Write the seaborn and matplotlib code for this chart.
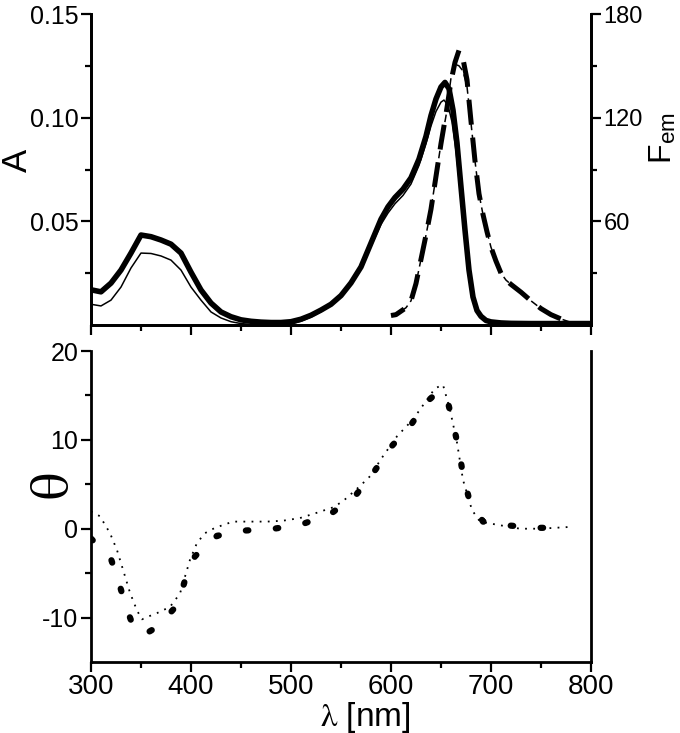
import seaborn as sns
import matplotlib.pyplot as plt
from matplotlib.ticker import MultipleLocator, FixedLocator, FormatStrFormatter

# Absorbance spectra (thick and thin solid curves), A units
abs_thick_nm = [300, 310, 320, 330, 340, 350, 360, 370, 380, 390, 400, 410, 420, 430, 440,
                450, 460, 470, 480, 490, 500, 510, 520, 530, 540, 550, 560, 570, 580, 590,
                597, 604, 612, 620, 628, 635, 640, 645, 650, 654, 658, 662, 666, 670, 674,
                678, 682, 686, 690, 695, 700, 710, 720, 740, 760, 780, 800]
abs_thick = [0.0170, 0.0160, 0.0202, 0.0265, 0.0347, 0.0434, 0.0426, 0.0410, 0.0390, 0.0347,
             0.0255, 0.0169, 0.0106, 0.0063, 0.0040, 0.0025, 0.0018, 0.0014, 0.0012, 0.0012,
             0.0016, 0.0028, 0.0047, 0.0072, 0.0100, 0.0142, 0.0203, 0.0280, 0.0395, 0.0510,
             0.0570, 0.0615, 0.0655, 0.0710, 0.0800, 0.0910, 0.1010, 0.1090, 0.1148, 0.1170,
             0.1140, 0.1037, 0.0878, 0.0666, 0.0458, 0.0265, 0.0135, 0.0070, 0.0042, 0.0022,
             0.0015, 0.0010, 0.0008, 0.0007, 0.0007, 0.0007, 0.0007]

abs_thin_nm = [300, 310, 320, 330, 340, 350, 360, 370, 380, 390, 400, 410, 420, 430, 440,
               450, 460, 470, 480, 490, 500, 510, 520, 530, 540, 550, 560, 570, 580, 590,
               597, 604, 612, 620, 628, 635, 640, 645, 650, 653, 657, 661, 665, 669, 673,
               677, 681, 685, 690, 695, 700, 710, 720, 800]
abs_thin = [0.0100, 0.0092, 0.0120, 0.0183, 0.0275, 0.0347, 0.0345, 0.0333, 0.0313, 0.0265,
            0.0183, 0.0120, 0.0063, 0.0034, 0.0016, 0.0007, 0.0003, 0.0001, 0.0000, 0.0000,
            0.0004, 0.0018, 0.0038, 0.0064, 0.0095, 0.0138, 0.0198, 0.0272, 0.0380, 0.0485,
            0.0540, 0.0585, 0.0625, 0.0680, 0.0770, 0.0875, 0.0960, 0.1030, 0.1075, 0.1085,
            0.1060, 0.0980, 0.0840, 0.0660, 0.0460, 0.0280, 0.0150, 0.0080, 0.0040, 0.0020,
            0.0010, 0.0003, 0.0000, 0.0000]

# Emission spectra (dashed curves), Fem units
em_nm = [600, 605, 610, 615, 620, 625, 630, 635, 640, 645, 650, 655, 660, 664, 668, 672,
         676, 680, 684, 688, 692, 696, 700, 705, 710, 715, 720, 730, 740, 750, 760, 770, 780]
em_thick = [5.5, 6.0, 8.0, 10.0, 14.0, 24.0, 38.0, 52.0, 67.0, 86.0, 105.0, 122.0, 141.0,
            152.0, 159.0, 154.0, 142.0, 118.0, 95.0, 76.0, 64.0, 54.0, 45.0, 37.0, 30.0,
            26.0, 23.5, 19.0, 14.0, 9.5, 6.0, 3.5, 1.5]
em_thin = [5.5, 6.0, 8.0, 10.0, 14.0, 24.0, 38.0, 52.0, 67.0, 86.0, 105.0, 121.0, 143.0,
           151.0, 150.0, 147.0, 138.0, 117.0, 95.0, 76.0, 64.0, 54.0, 45.0, 37.0, 30.0,
           26.0, 23.5, 19.0, 14.0, 9.5, 6.0, 3.5, 1.5]

# CD spectra (dotted curves), theta units
cd_thick_nm = [300, 320, 328, 335, 344, 355, 367, 387, 394, 404, 426, 455, 483, 511, 540,
               565, 583, 600, 620, 636, 648, 657, 663, 668, 672, 678, 692, 719, 747, 777]
cd_thick = [-1.1, -3.4, -6.1, -8.8, -11.5, -11.8, -11.0, -8.5, -5.8, -3.1, -0.8, -0.2, 0.0,
            0.5, 1.7, 3.8, 6.4, 9.2, 11.7, 14.3, 15.5, 14.2, 11.4, 8.8, 6.1, 3.4, 0.8, 0.35,
            0.1, 0.1]

cd_thin_nm = [300, 309, 319, 326, 332, 339, 346, 351, 357, 366, 379, 389, 394, 399, 406,
              414, 424, 442, 459, 476, 492, 509, 526, 542, 552, 569, 579, 591, 606, 622,
              644, 652, 659, 666, 672, 681, 689, 706, 729, 749, 779]
cd_thin = [1.95, 1.4, -0.5, -2.4, -4.6, -7.2, -9.2, -10.2, -9.9, -9.5, -8.8, -7.3, -5.4,
           -3.5, -1.6, -0.5, 0.1, 0.8, 0.8, 0.8, 0.9, 1.2, 1.8, 2.4, 3.1, 4.8, 5.9, 8.0, 10.4,
           12.3, 15.8, 16.2, 13.4, 9.7, 5.5, 2.1, 0.8, 0.45, 0.0, 0.0, 0.2]

# Style
sns.set_style('ticks')
plt.rcParams['font.family'] = ['Liberation Sans', 'DejaVu Sans']
plt.rcParams['mathtext.fontset'] = 'stix'
plt.rcParams['axes.unicode_minus'] = False
plt.rcParams['axes.edgecolor'] = 'black'
plt.rcParams['axes.labelcolor'] = 'black'
plt.rcParams['text.color'] = 'black'
plt.rcParams['xtick.color'] = 'black'
plt.rcParams['ytick.color'] = 'black'
plt.rcParams['axes.linewidth'] = 2.0

fig = plt.figure(figsize=(6.8, 7.33), dpi=100)
ax_abs = fig.add_axes([0.1338, 0.5566, 0.7353, 0.4243])
ax_em = ax_abs.twinx()
ax_cd = fig.add_axes([0.1338, 0.0969, 0.7353, 0.4242])

# Top panel: absorbance + emission
sns.lineplot(x=abs_thin_nm, y=abs_thin, ax=ax_abs, color='black', linewidth=1.1)
sns.lineplot(x=abs_thick_nm, y=abs_thick, ax=ax_abs, color='black', linewidth=4.0)
sns.lineplot(x=em_nm, y=em_thin, ax=ax_em, color='black', linewidth=1.1,
             linestyle=(0, (5, 3)))
sns.lineplot(x=em_nm, y=em_thick, ax=ax_em, color='black', linewidth=3.6,
             linestyle=(2, (5, 2.6)))

# Bottom panel: CD
sns.lineplot(x=cd_thin_nm, y=cd_thin, ax=ax_cd, color='black', linewidth=1.3,
             linestyle=(0, (1, 3.5)))
sns.lineplot(x=cd_thick_nm, y=cd_thick, ax=ax_cd, color='black', linewidth=4.5,
             linestyle=(0, (0.4, 4.4)), dash_capstyle='round')

for ax in [ax_abs, ax_cd]:
    ax.set_xlim(300, 800)
    ax.xaxis.set_major_locator(MultipleLocator(100))
    ax.xaxis.set_minor_locator(MultipleLocator(50))
    ax.spines['top'].set_visible(False)
    ax.tick_params(which='both', direction='out', width=1.6, top=False)
    ax.tick_params(which='major', length=7, pad=2)
    ax.tick_params(which='minor', length=4)
ax_em.spines['top'].set_visible(False)

ax_abs.set_ylim(0, 0.15)
ax_abs.yaxis.set_major_locator(FixedLocator([0.05, 0.10, 0.15]))
ax_abs.yaxis.set_minor_locator(FixedLocator([0.025, 0.075, 0.125]))
ax_abs.yaxis.set_major_formatter(FormatStrFormatter('%.2f'))
ax_abs.tick_params(axis='x', labelbottom=False)
ax_abs.tick_params(axis='y', labelsize=18, right=False)

ax_em.set_ylim(0, 180)
ax_em.yaxis.set_major_locator(FixedLocator([60, 120, 180]))
ax_em.yaxis.set_minor_locator(FixedLocator([30, 90, 150]))
ax_em.tick_params(which='both', direction='out', width=1.6, labelsize=17, pad=2)
ax_em.tick_params(which='major', length=7)
ax_em.tick_params(which='minor', length=4)

ax_cd.set_ylim(-15, 20)
ax_cd.yaxis.set_major_locator(FixedLocator([-10, 0, 10, 20]))
ax_cd.yaxis.set_minor_locator(FixedLocator([-5, 5, 15]))
ax_cd.tick_params(axis='y', labelsize=18, right=False)
ax_cd.tick_params(axis='x', labelsize=20)

# Axis labels
ax_abs.set_ylabel('A', fontsize=25)
ax_abs.yaxis.set_label_coords(-0.148, 0.53)
ax_abs.yaxis.label.set_va('center')

ax_em.set_ylabel(r'F$_\mathregular{em}$', fontsize=23, rotation=90)
ax_em.yaxis.set_label_coords(1.145, 0.60)
ax_em.yaxis.label.set_va('center')

ax_cd.set_ylabel(r'$\mathrm{\theta}$', fontsize=39)
ax_cd.yaxis.set_label_coords(-0.074, 0.565)
ax_cd.yaxis.label.set_va('center')

ax_cd.set_xlabel(r'$\mathrm{\lambda}$ [nm]', fontsize=24)
ax_cd.xaxis.set_label_coords(0.548, -0.177)
ax_cd.xaxis.label.set_va('center')

plt.savefig('out.png', dpi=100)
